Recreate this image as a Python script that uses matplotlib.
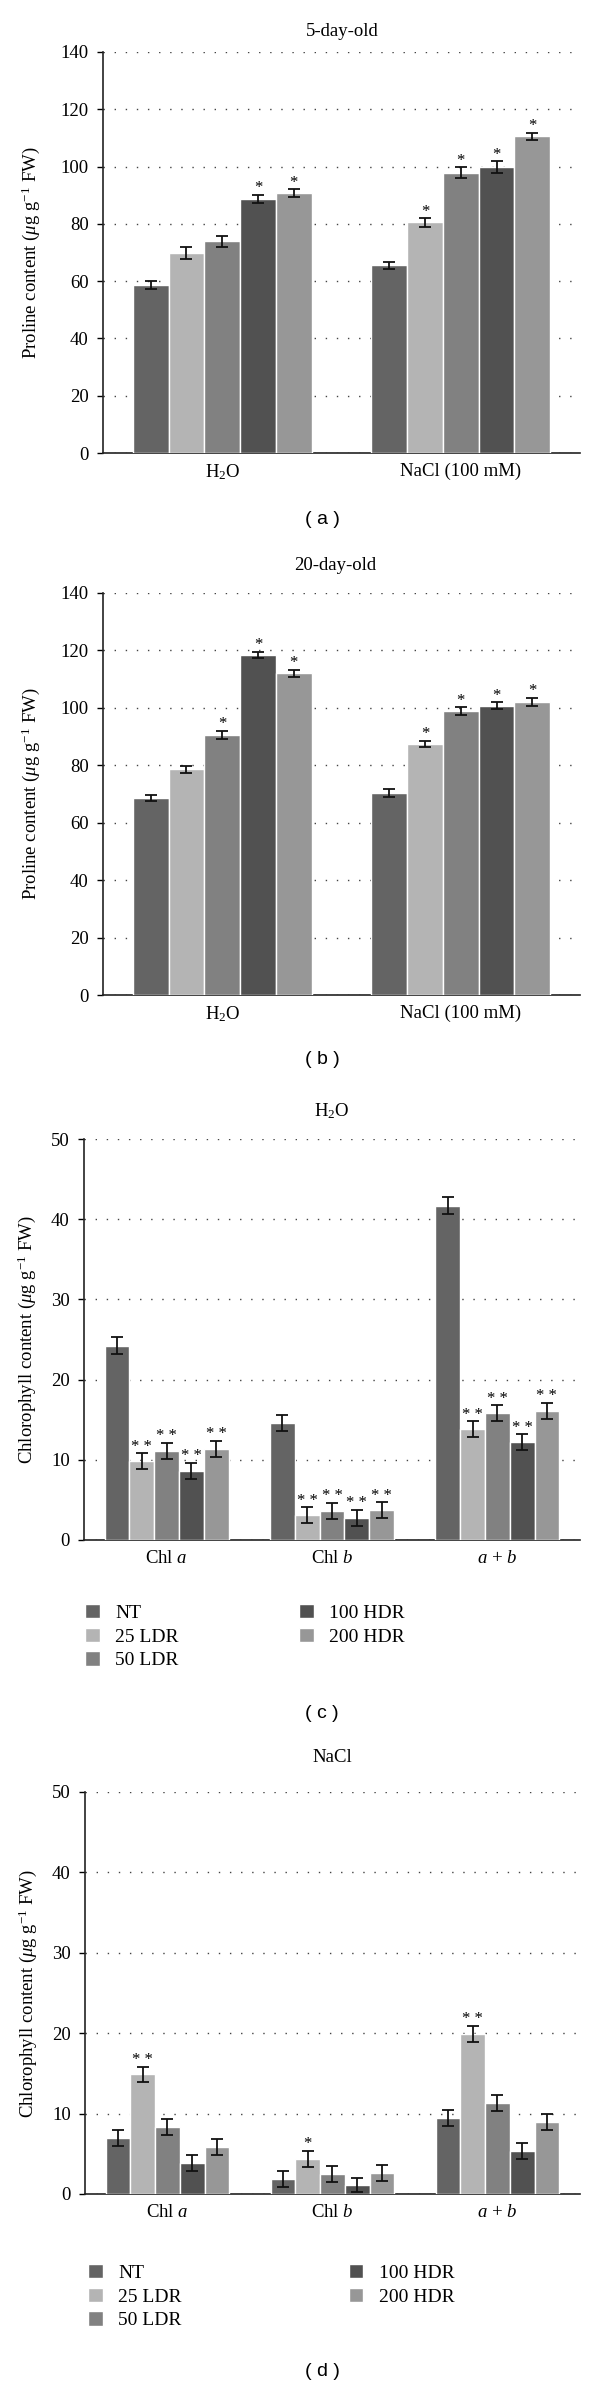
import numpy as np
import matplotlib
matplotlib.use("Agg")
import matplotlib.pyplot as plt

plt.rcParams['font.family'] = 'Liberation Serif'
plt.rcParams['mathtext.fontset'] = 'custom'
plt.rcParams['mathtext.rm'] = 'Liberation Serif'
plt.rcParams['mathtext.it'] = 'Liberation Serif:italic'

# treatments and colours
treatments = ['NT', '25 LDR', '50 LDR', '100 HDR', '200 HDR']
colors = ['#646464', '#b4b4b4', '#818181', '#515151', '#979797']

# proline, groups: H2O / NaCl, values per treatment
pro_groups = ['H$_2$O', 'NaCl (100 mM)']

pro5_vals = [[58.6, 69.8, 73.9, 88.8, 90.7],
             [65.5, 80.5, 97.9, 99.8, 110.5]]
pro5_err = [[1.5, 2.0, 2.0, 1.4, 1.3],
            [1.2, 1.5, 1.8, 2.1, 1.3]]
pro5_sig = [['', '', '', '*', '*'],
            ['', '*', '*', '*', '*']]

pro20_vals = [[68.5, 78.6, 90.6, 118.4, 112.0],
              [70.5, 87.4, 98.8, 100.7, 102.1]]
pro20_err = [[1.1, 1.3, 1.5, 1.2, 1.2],
             [1.4, 1.2, 1.4, 1.2, 1.3]]
pro20_sig = [['', '', '*', '*', '*'],
             ['', '*', '*', '*', '*']]

# chlorophyll, groups: Chl a / Chl b / a+b
chl_groups = ['Chl $a$', 'Chl $b$', '$a$ + $b$']

chl_h2o_vals = [[24.2, 9.8, 11.1, 8.6, 11.4],
                [14.6, 3.1, 3.6, 2.8, 3.7],
                [41.7, 13.8, 15.8, 12.2, 16.1]]
chl_h2o_err = [[1.05, 1.0, 1.0, 1.0, 1.0],
               [1.0, 1.0, 1.0, 1.0, 1.0],
               [1.05, 1.0, 1.0, 1.0, 1.0]]
chl_h2o_sig = [['', '**', '**', '**', '**'],
               ['', '**', '**', '**', '**'],
               ['', '**', '**', '**', '**']]

chl_nacl_vals = [[7.0, 14.9, 8.3, 3.9, 5.9],
                 [1.9, 4.4, 2.5, 1.1, 2.6],
                 [9.4, 19.9, 11.3, 5.3, 8.9]]
chl_nacl_err = [[1.0, 0.95, 1.0, 1.0, 1.0],
                [1.0, 1.0, 1.0, 0.9, 1.0],
                [1.0, 1.0, 1.0, 1.0, 1.0]]
chl_nacl_sig = [['', '**', '', '', ''],
                ['', '*', '', '', ''],
                ['', '**', '', '', '']]

W, H = 600, 2386
fig = plt.figure(figsize=(W / 100, H / 100), dpi=100)

bw = 0.15


def px_axes(x0, x1, ytop, ybot):
    return fig.add_axes([x0 / W, 1 - ybot / H, (x1 - x0) / W, (ybot - ytop) / H])


def draw_bars(ax, groups, vals, errs, sig, ymax, step, ylabel, lab_x):
    xg = np.arange(len(groups))
    for i, t in enumerate(treatments):
        xs = xg + (i - 2) * bw
        ys = [v[i] for v in vals]
        es = [e[i] for e in errs]
        ax.bar(xs, ys, bw, color=colors[i], edgecolor='white', linewidth=1,
               zorder=3, label=t)
        ax.errorbar(xs, ys, yerr=es, fmt='none', ecolor='#111111',
                    elinewidth=1.3, capsize=4, capthick=1.3, zorder=4)
        for x, y, e, s in zip(xs, ys, es, [g[i] for g in sig]):
            if s:
                ax.annotate(' '.join(s), (x, y + e), xytext=(0, -1),
                            textcoords='offset points', ha='center',
                            va='bottom', fontsize=12)
    ax.set_xlim(-0.5, len(groups) - 0.5)
    ax.set_ylim(0, ymax)
    ax.set_yticks(np.arange(0, ymax + 1, step))
    ax.set_xticks(xg)
    ax.set_xticklabels(groups)
    ax.tick_params(axis='x', length=0, pad=7, labelsize=13.5)
    ax.tick_params(axis='y', length=4.3, width=1, pad=6, labelsize=13.5)
    for s in ['top', 'right']:
        ax.spines[s].set_visible(False)
    for s in ['left', 'bottom']:
        ax.spines[s].set_linewidth(1.2)
        ax.spines[s].set_color('#222222')
    ax.yaxis.grid(True, linestyle=(0, (1, 7)), color='#444444', linewidth=1)
    ax.set_axisbelow(True)
    ax.set_ylabel(ylabel, fontsize=13.5)
    ax.yaxis.set_label_coords(lab_x, 0.5)


pro_label = r'Proline content ($\mu$g g$^{-1}$ FW)'
chl_label = r'Chlorophyll content ($\mu$g g$^{-1}$ FW)'

# (a)
ax_a = px_axes(103, 580, 52, 453)
draw_bars(ax_a, pro_groups, pro5_vals, pro5_err, pro5_sig, 140, 20, pro_label, -0.128)
fig.text(342 / W, 1 - 31 / H, '5-day-old', ha='center', va='center', fontsize=13.5)
fig.text(322 / W, 1 - 520 / H, '( a )', ha='center', va='center', fontsize=14,
         family='Liberation Sans')

# (b)
ax_b = px_axes(103, 580, 593, 995)
draw_bars(ax_b, pro_groups, pro20_vals, pro20_err, pro20_sig, 140, 20, pro_label, -0.128)
fig.text(335 / W, 1 - 566 / H, '20-day-old', ha='center', va='center', fontsize=13.5)
fig.text(322 / W, 1 - 1060 / H, '( b )', ha='center', va='center', fontsize=14,
         family='Liberation Sans')

# (c)
ax_c = px_axes(84, 580, 1139, 1540)
draw_bars(ax_c, chl_groups, chl_h2o_vals, chl_h2o_err, chl_h2o_sig, 50, 10, chl_label, -0.093)
fig.text(332 / W, 1 - 1111 / H, 'H$_2$O', ha='center', va='center', fontsize=13.5)
h, l = ax_c.get_legend_handles_labels()
fig.legend(h, l, loc='upper left', bbox_to_anchor=(85 / W, 1 - 1604 / H),
           ncol=2, frameon=False, fontsize=14, handlelength=0.75,
           handleheight=0.75, handletextpad=0.8, labelspacing=0.3,
           columnspacing=6.2, borderpad=0, borderaxespad=0)
fig.text(322 / W, 1 - 1713 / H, '( c )', ha='center', va='center', fontsize=14,
         family='Liberation Sans')

# (d)
ax_d = px_axes(85, 580, 1792, 2194)
draw_bars(ax_d, chl_groups, chl_nacl_vals, chl_nacl_err, chl_nacl_sig, 50, 10, chl_label, -0.093)
fig.text(332 / W, 1 - 1758 / H, 'NaCl', ha='center', va='center', fontsize=13.5)
h, l = ax_d.get_legend_handles_labels()
fig.legend(h, l, loc='upper left', bbox_to_anchor=(88 / W, 1 - 2264 / H),
           ncol=2, frameon=False, fontsize=14, handlelength=0.75,
           handleheight=0.75, handletextpad=0.8, labelspacing=0.3,
           columnspacing=8.6, borderpad=0, borderaxespad=0)
fig.text(322 / W, 1 - 2372 / H, '( d )', ha='center', va='center', fontsize=14,
         family='Liberation Sans')

fig.savefig('out.png', dpi=100, facecolor='white')
